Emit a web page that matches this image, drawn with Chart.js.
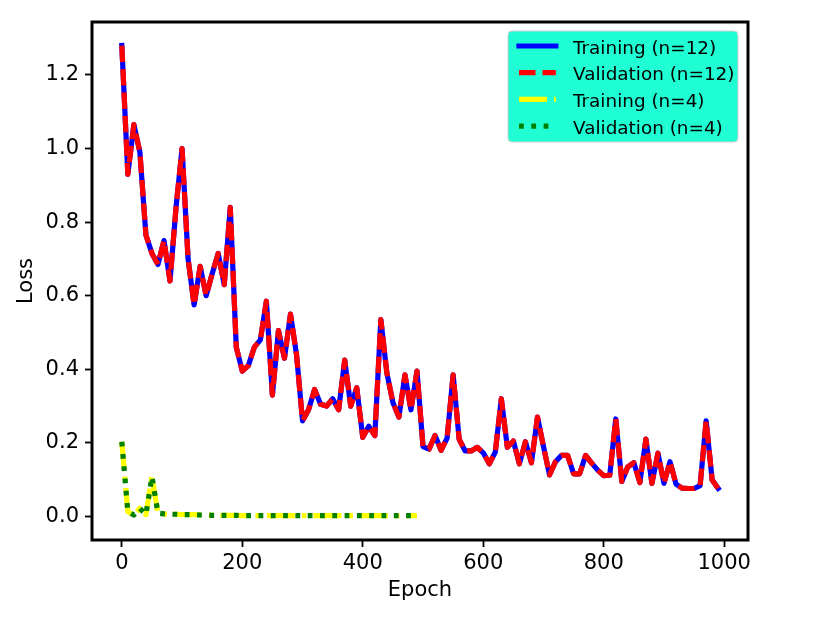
<!DOCTYPE html>
<html>
<head>
<meta charset="utf-8">
<title>Loss</title>
<script src="https://cdn.jsdelivr.net/npm/chart.js@4.4.1/dist/chart.umd.min.js"></script>
<style>
  body { margin: 0; background: #fff; }
  #wrap { width: 830px; height: 622px; }
</style>
</head>
<body>
<div id="wrap"><canvas id="canvas" width="830" height="622"></canvas></div>
<script>
// epochs and loss
var epochs12 = [0, 10, 20, 30, 40, 50, 60, 70, 80, 90,
  100, 110, 120, 130, 140, 150, 160, 170, 180, 190,
  200, 210, 220, 230, 240, 250, 260, 270, 280, 290,
  300, 310, 320, 330, 340, 350, 360, 370, 380, 390,
  400, 410, 420, 430, 440, 450, 460, 470, 480, 490,
  500, 510, 520, 530, 540, 550, 560, 570, 580, 590,
  600, 610, 620, 630, 640, 650, 660, 670, 680, 690,
  700, 710, 720, 730, 740, 750, 760, 770, 780, 790,
  800, 810, 820, 830, 840, 850, 860, 870, 880, 890,
  900, 910, 920, 930, 940, 950, 960, 970, 980, 990];
var train12 = [1.28, 0.93, 1.065, 0.99, 0.765, 0.715, 0.685, 0.75, 0.64, 0.84,
  1.0, 0.70, 0.575, 0.68, 0.60, 0.66, 0.715, 0.63, 0.84, 0.46,
  0.395, 0.41, 0.46, 0.48, 0.585, 0.33, 0.505, 0.43, 0.55, 0.44,
  0.26, 0.29, 0.345, 0.305, 0.30, 0.32, 0.29, 0.425, 0.30, 0.35,
  0.215, 0.245, 0.22, 0.535, 0.39, 0.31, 0.27, 0.385, 0.29, 0.395,
  0.19, 0.183, 0.22, 0.18, 0.213, 0.385, 0.21, 0.178, 0.178, 0.188,
  0.173, 0.143, 0.175, 0.32, 0.188, 0.205, 0.143, 0.203, 0.146, 0.27,
  0.19, 0.113, 0.149, 0.166, 0.166, 0.116, 0.116, 0.166, 0.145, 0.126,
  0.111, 0.112, 0.265, 0.095, 0.135, 0.146, 0.092, 0.21, 0.09, 0.172,
  0.09, 0.149, 0.088, 0.077, 0.076, 0.076, 0.084, 0.26, 0.099, 0.076];
var val12 = [1.28, 0.93, 1.065, 0.99, 0.765, 0.715, 0.685, 0.75, 0.64, 0.84,
  1.0, 0.70, 0.575, 0.68, 0.60, 0.66, 0.715, 0.63, 0.84, 0.46,
  0.395, 0.41, 0.46, 0.48, 0.585, 0.33, 0.505, 0.43, 0.55, 0.44,
  0.26, 0.29, 0.345, 0.305, 0.30, 0.32, 0.29, 0.425, 0.30, 0.35,
  0.215, 0.245, 0.22, 0.535, 0.39, 0.31, 0.27, 0.385, 0.29, 0.395,
  0.19, 0.183, 0.22, 0.18, 0.213, 0.385, 0.21, 0.178, 0.178, 0.188,
  0.173, 0.143, 0.175, 0.32, 0.188, 0.205, 0.143, 0.203, 0.146, 0.27,
  0.19, 0.113, 0.149, 0.166, 0.166, 0.116, 0.116, 0.166, 0.145, 0.126,
  0.111, 0.112, 0.265, 0.095, 0.135, 0.146, 0.092, 0.21, 0.09, 0.172,
  0.09, 0.149, 0.088, 0.077, 0.076, 0.076, 0.084, 0.26, 0.099, 0.076];

var epochs4 = [0, 10, 20, 30, 40, 50, 60, 70, 80, 90,
  100, 110, 120, 130, 140, 150, 160, 170, 180, 190,
  200, 210, 220, 230, 240, 250, 260, 270, 280, 290,
  300, 310, 320, 330, 340, 350, 360, 370, 380, 390,
  400, 410, 420, 430, 440, 450, 460, 470, 480, 490];
var train4 = [0.203, 0.013, 0.004, 0.022, 0.005, 0.108, 0.009, 0.007, 0.006, 0.006,
  0.005, 0.005, 0.005, 0.004, 0.004, 0.003, 0.003, 0.003, 0.003, 0.003,
  0.002, 0.002, 0.002, 0.002, 0.002, 0.002, 0.002, 0.002, 0.002, 0.002,
  0.002, 0.002, 0.002, 0.002, 0.002, 0.002, 0.002, 0.002, 0.002, 0.002,
  0.002, 0.002, 0.002, 0.002, 0.002, 0.002, 0.002, 0.002, 0.002, 0.002];
var val4 = [0.203, 0.013, 0.004, 0.022, 0.005, 0.108, 0.009, 0.007, 0.006, 0.006,
  0.005, 0.005, 0.005, 0.004, 0.004, 0.003, 0.003, 0.003, 0.003, 0.003,
  0.002, 0.002, 0.002, 0.002, 0.002, 0.002, 0.002, 0.002, 0.002, 0.002,
  0.002, 0.002, 0.002, 0.002, 0.002, 0.002, 0.002, 0.002, 0.002, 0.002,
  0.002, 0.002, 0.002, 0.002, 0.002, 0.002, 0.002, 0.002, 0.002, 0.002];

var xTicks = [0, 200, 400, 600, 800, 1000];
var yTicks = [0.0, 0.2, 0.4, 0.6, 0.8, 1.0, 1.2];
var seriesLabels = ['Training (n=12)', 'Validation (n=12)', 'Training (n=4)', 'Validation (n=4)'];

function points(xs, ys) {
  return xs.map(function (x, i) { return { x: x, y: ys[i] }; });
}

var LW = 5.2;
var legendFont = 18.4;

// matplotlib style legend box, top right inside the axes
var boxLegend = {
  id: 'boxLegend',
  afterDraw: function (chart) {
    var ctx = chart.ctx, a = chart.chartArea;
    var w = 230, h = 111;
    var left = a.right - 10 - w, top = a.top + 9;
    ctx.save();
    ctx.beginPath();
    ctx.roundRect(left, top, w, h, 4);
    ctx.fillStyle = '#1fffd3';
    ctx.fill();
    ctx.lineWidth = 1;
    ctx.strokeStyle = '#d0d0d0';
    ctx.stroke();
    chart.data.datasets.forEach(function (ds, i) {
      var y = top + 15 + i * 26.7;
      var x0 = left + 11;
      ctx.beginPath();
      ctx.setLineDash(ds.borderDash || []);
      ctx.lineCap = ds.borderDash && ds.borderDash.length ? 'butt' : 'square';
      ctx.lineWidth = ds.borderWidth;
      ctx.strokeStyle = ds.borderColor;
      ctx.moveTo(x0, y);
      ctx.lineTo(x0 + 2 * legendFont, y);
      ctx.stroke();
      ctx.setLineDash([]);
      ctx.fillStyle = '#000';
      ctx.font = legendFont + 'px "DejaVu Sans"';
      ctx.textBaseline = 'alphabetic';
      ctx.textAlign = 'left';
      ctx.fillText(ds.label, left + 65, y + 7.5);
    });
    ctx.restore();
  }
};

// black frame round the axes
var frame = {
  id: 'frame',
  afterDatasetsDraw: function (chart) {
    var ctx = chart.ctx, a = chart.chartArea;
    ctx.save();
    ctx.lineWidth = 3;
    ctx.strokeStyle = '#000';
    ctx.strokeRect(a.left, a.top, a.right - a.left, a.bottom - a.top);
    ctx.restore();
  }
};

Chart.defaults.font.family = '"DejaVu Sans"';
Chart.defaults.color = '#000';

const ctx = document.getElementById('canvas').getContext('2d');
const myChart = new Chart(ctx, {
  type: 'line',
  data: {
    datasets: [{
      label: seriesLabels[0],
      data: points(epochs12, train12),
      borderColor: '#0000ff',
      borderWidth: LW,
      borderCapStyle: 'square',
      order: 4
    }, {
      label: seriesLabels[1],
      data: points(epochs12, val12),
      borderColor: '#ff0000',
      borderWidth: LW,
      borderDash: [16.5, 7],
      order: 3
    }, {
      label: seriesLabels[2],
      data: points(epochs4, train4),
      borderColor: '#ffff00',
      borderWidth: LW,
      borderDash: [28, 7, 4.5, 7],
      order: 2
    }, {
      label: seriesLabels[3],
      data: points(epochs4, val4),
      borderColor: '#008000',
      borderWidth: LW,
      borderDash: [4.8, 7.5],
      order: 1
    }]
  },
  options: {
    responsive: false,
    animation: false,
    events: [],
    layout: { padding: { top: 22, right: 82, left: 0, bottom: 0 } },
    elements: {
      point: { radius: 0 },
      line: { tension: 0, borderJoinStyle: 'round', fill: false }
    },
    plugins: {
      legend: { display: false },
      tooltip: { enabled: false }
    },
    scales: {
      x: {
        type: 'linear',
        min: -49.5,
        max: 1039.5,
        afterBuildTicks: function (s) { s.ticks = xTicks.map(function (v) { return { value: v }; }); },
        afterFit: function (s) { s.height = 82; },
        ticks: { font: { size: 21 }, padding: 4, maxRotation: 0, callback: function (v) { return String(v); } },
        grid: { display: true, drawOnChartArea: false, drawTicks: true, tickLength: 7, tickWidth: 1.8, tickColor: '#000' },
        border: { display: false },
        title: { display: true, text: 'Epoch', font: { size: 21 }, padding: { top: 0, bottom: 19 } }
      },
      y: {
        type: 'linear',
        min: -0.064,
        max: 1.344,
        afterBuildTicks: function (s) { s.ticks = yTicks.map(function (v) { return { value: v }; }); },
        afterFit: function (s) { s.width = 92; },
        ticks: { font: { size: 21 }, padding: 6, callback: function (v) { return v.toFixed(1); } },
        grid: { display: true, drawOnChartArea: false, drawTicks: true, tickLength: 7, tickWidth: 1.8, tickColor: '#000' },
        border: { display: false },
        title: { display: true, text: 'Loss', font: { size: 21 }, padding: { top: 14, bottom: 0 } }
      }
    }
  },
  plugins: [frame, boxLegend]
});
</script>
</body>
</html>
